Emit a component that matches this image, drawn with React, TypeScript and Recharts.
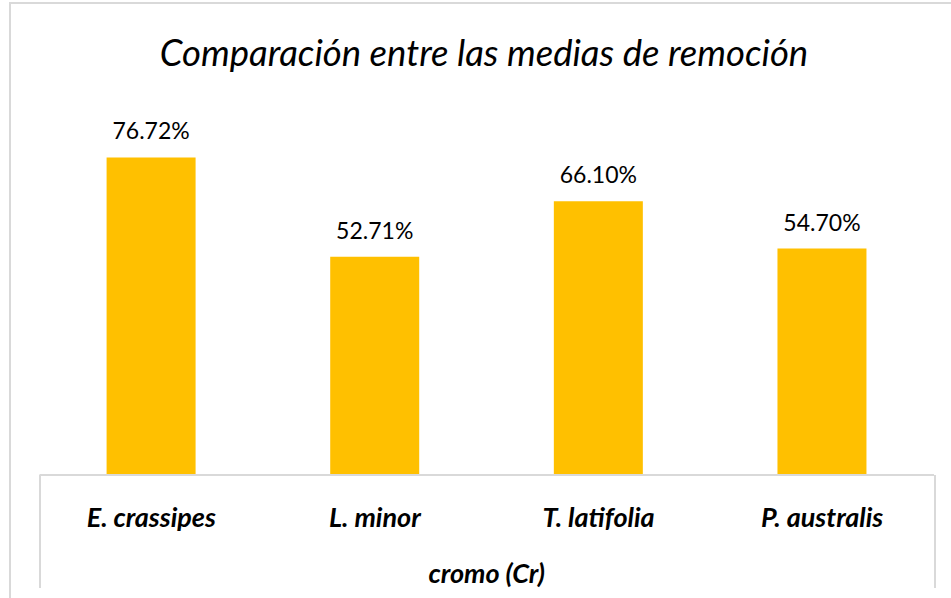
import React from 'react';
import { BarChart, Bar, XAxis, YAxis, LabelList } from 'recharts';

const categories = ['E. crassipes', 'L. minor', 'T. latifolia', 'P. australis'];
const removal = [0.7672, 0.5271, 0.661, 0.547];
const groupLabel = 'cromo (Cr)';
const title = 'Comparación entre las medias de remoción';

const data = categories.map((name, i) => ({ name, value: removal[i] }));

const FONT = 'Lato, "Open Sans", sans-serif';

const CategoryTick = (props: any) => {
  const { x, y, payload } = props;
  return (
    <text
      x={x}
      y={y + 44}
      textAnchor="middle"
      fontFamily={FONT}
      fontWeight={700}
      fontStyle="italic"
      fontSize={27}
      fill="#000"
    >
      {payload.value}
    </text>
  );
};

export default function App() {
  return (
    <div style={{ position: 'absolute', left: 0, top: 0, width: 951, height: 598, background: '#fff', overflow: 'hidden' }}>
      <div
        style={{
          position: 'absolute',
          left: 9,
          top: 2,
          width: 1000,
          height: 700,
          borderLeft: '2px solid #d9d9d9',
          borderTop: '2px solid #d9d9d9',
        }}
      />
      <svg style={{ position: 'absolute', left: 0, top: 0 }} width={951} height={598}>
        <text
          x={484}
          y={65.5}
          textAnchor="middle"
          fontFamily={FONT}
          fontStyle="italic"
          fontWeight={400}
          fontSize={36.5}
          fill="#000"
        >
          {title}
        </text>
      </svg>
      <div
        style={{
          position: 'absolute',
          left: 39,
          top: 475,
          width: 893,
          height: 113,
          borderLeft: '2px solid #d9d9d9',
          borderRight: '2px solid #d9d9d9',
        }}
      />
      <div style={{ position: 'absolute', left: 0, top: 0 }}>
        <BarChart
          width={951}
          height={598}
          data={data}
          margin={{ top: 61, right: 17, bottom: 0, left: 39.5 }}
          barCategoryGap="30%"
        >
          <YAxis hide domain={[0, 1]} />
          <XAxis
            dataKey="name"
            height={123}
            axisLine={{ stroke: '#d9d9d9', strokeWidth: 2 }}
            tickLine={false}
            tick={<CategoryTick />}
            interval={0}
            label={{
              value: groupLabel,
              position: 'insideBottom',
              offset: 15,
              fontFamily: FONT,
              fontWeight: 700,
              fontStyle: 'italic',
              fontSize: 27,
              fill: '#000',
            }}
          />
          <Bar dataKey="value" fill="#FFC000" isAnimationActive={false}>
            <LabelList
              dataKey="value"
              position="top"
              offset={18}
              formatter={(v: any) => `${(Number(v) * 100).toFixed(2)}%`}
              style={{ fontFamily: FONT, fontSize: 23, fill: '#000' }}
            />
          </Bar>
        </BarChart>
      </div>
    </div>
  );
}
